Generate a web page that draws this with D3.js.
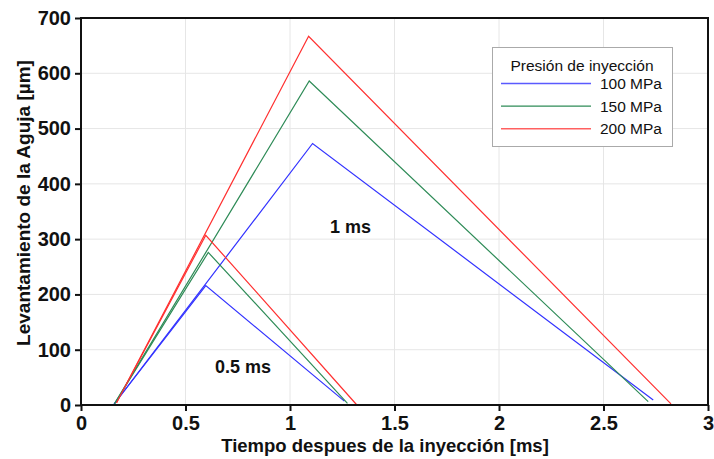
<!DOCTYPE html>
<html><head><meta charset="utf-8">
<script src="https://cdn.jsdelivr.net/npm/d3@7"></script>
<style>body{margin:0;background:#fff}svg{display:block}text{font-family:"Liberation Sans",Arial,sans-serif}</style>
</head><body><svg id="c" width="714" height="459"></svg>
<script>
const seriesNames = ["100 MPa", "150 MPa", "200 MPa"];
const seriesColors = ["#3232ff", "#2e8b57", "#ff3030"];
const legendColors = ["#5a5aff", "#2e8b57", "#ff6060"];
// 1 ms injection curves: [time ms, lift µm]
const t1_100 = [0.155, 1.108, 2.738];
const y1_100 = [0, 473, 9];
const t1_150 = [0.16, 1.092, 2.714];
const y1_150 = [2, 586, 6];
const t1_200 = [0.17, 1.089, 2.823];
const y1_200 = [4, 667, 2];
// 0.5 ms injection curves
const t05_100 = [0.155, 0.597, 1.26];
const y05_100 = [0, 216, 7];
const t05_150 = [0.16, 0.609, 1.275];
const y05_150 = [2, 276, 3];
const t05_200 = [0.17, 0.597, 1.32];
const y05_200 = [4, 307, 0];
const xTicks = [0, 0.5, 1, 1.5, 2, 2.5, 3];
const xTickLabels = ["0", "0.5", "1", "1.5", "2", "2.5", "3"];
const yTicks = [0, 100, 200, 300, 400, 500, 600, 700];
const annotations = [{text: "1 ms", x: 1.29, y: 312}, {text: "0.5 ms", x: 0.775, y: 57}];

const svg = d3.select("#c");
const L = 81, R = 708, T = 18, B = 405;
const x = d3.scaleLinear().domain([0, 3]).range([L, R]);
const y = d3.scaleLinear().domain([0, 700]).range([B, T]);

// grid
svg.append("g").selectAll("line").data(xTicks.slice(1, -1)).join("line")
  .attr("x1", d => x(d)).attr("x2", d => x(d)).attr("y1", T).attr("y2", B)
  .attr("stroke", "#e6e6e6").attr("stroke-width", 1);
svg.append("g").selectAll("line").data(yTicks.slice(1, -1)).join("line")
  .attr("y1", d => y(d)).attr("y2", d => y(d)).attr("x1", L).attr("x2", R)
  .attr("stroke", "#e6e6e6").attr("stroke-width", 1);

// lines
const groups = [
  [t1_100, y1_100, 0], [t1_150, y1_150, 1], [t1_200, y1_200, 2],
  [t05_100, y05_100, 0], [t05_150, y05_150, 1], [t05_200, y05_200, 2]
];
const line = d3.line().x(d => x(d[0])).y(d => y(d[1]));
groups.forEach(([ts, ys, k]) => {
  svg.append("path").datum(ts.map((t, i) => [t, ys[i]]))
    .attr("d", line).attr("fill", "none")
    .attr("stroke", seriesColors[k]).attr("stroke-width", 1.2);
});

// frame
svg.append("rect").attr("x", L).attr("y", T).attr("width", R - L).attr("height", B - T)
  .attr("fill", "none").attr("stroke", "#111").attr("stroke-width", 2);

// axes
const xAxis = svg.append("g").attr("transform", `translate(0,${B})`)
  .call(d3.axisBottom(x).tickValues(xTicks).tickFormat((d, i) => xTickLabels[i]).tickSize(6).tickPadding(5));
const yAxis = svg.append("g").attr("transform", `translate(${L},0)`)
  .call(d3.axisLeft(y).tickValues(yTicks).tickSize(6).tickPadding(4));
[xAxis, yAxis].forEach(g => {
  g.select(".domain").remove();
  g.selectAll("line").attr("stroke", "#111").attr("stroke-width", 2);
  g.selectAll("text").attr("font-size", 20).attr("font-weight", "bold").attr("fill", "#111")
    .attr("font-family", "Liberation Sans, Arial, sans-serif");
});

// axis titles
svg.append("text").attr("x", 385).attr("y", 452).attr("text-anchor", "middle")
  .attr("font-size", 18.5).attr("font-weight", "bold").attr("fill", "#111")
  .text("Tiempo despues de la inyección [ms]");
svg.append("text").attr("transform", "translate(30,203) rotate(-90)").attr("text-anchor", "middle")
  .attr("font-size", 19).attr("font-weight", "bold").attr("fill", "#111")
  .text("Levantamiento de la Aguja [µm]");

// annotations
annotations.forEach(a => {
  svg.append("text").attr("x", x(a.x)).attr("y", y(a.y)).attr("text-anchor", "middle")
    .attr("font-size", 18).attr("font-weight", "bold").attr("fill", "#111").text(a.text);
});

// legend
const lg = svg.append("g");
lg.append("rect").attr("x", 492.5).attr("y", 47.5).attr("width", 180).attr("height", 99)
  .attr("fill", "#fff").attr("stroke", "#aaa").attr("stroke-width", 1);
lg.append("text").attr("x", 582).attr("y", 71).attr("text-anchor", "middle")
  .attr("font-size", 15.5).attr("fill", "#111").text("Presión de inyección");
seriesNames.forEach((n, i) => {
  const yy = 83.5 + i * 22.6;
  lg.append("line").attr("x1", 501).attr("x2", 591).attr("y1", yy).attr("y2", yy)
    .attr("stroke", legendColors[i]).attr("stroke-width", 1.4);
  lg.append("text").attr("x", 662).attr("y", yy + 5.5).attr("text-anchor", "end")
    .attr("font-size", 15.5).attr("fill", "#111").text(n);
});
</script></body></html>
